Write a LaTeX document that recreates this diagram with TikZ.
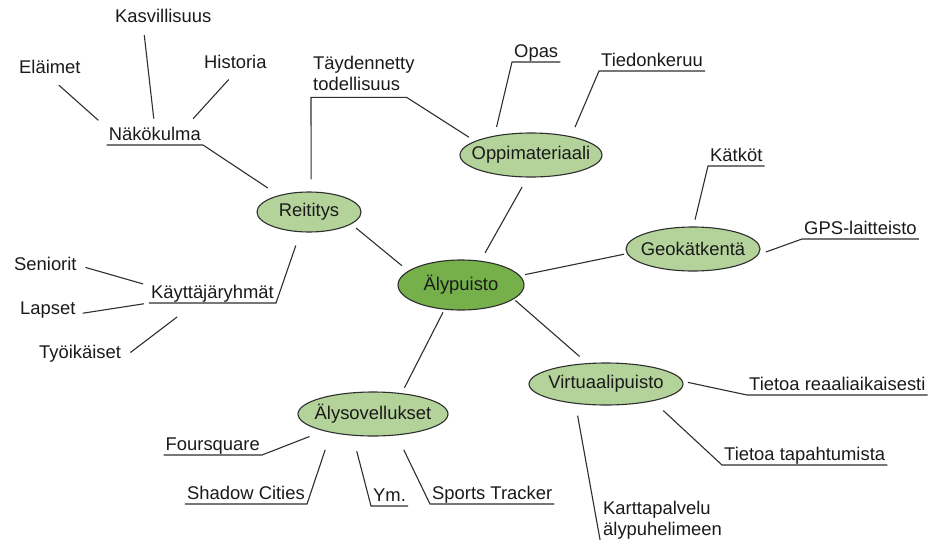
\documentclass[tikz,border=0pt]{standalone}
\usepackage{fontspec}
\setmainfont{Liberation Sans}
\usetikzlibrary{shapes.geometric}
\definecolor{leafgreen}{HTML}{B4D39B}
\definecolor{coregreen}{HTML}{75B04B}
\definecolor{linegray}{HTML}{2E2E2E}
\definecolor{inkgray}{HTML}{1A1A1A}
\newcommand{\ovaltext}[1]{\makebox[0pt]{#1}}
\tikzset{
  topic/.style={ellipse,draw=linegray,line width=1.1pt,fill=leafgreen,inner sep=0pt},
  core/.style={topic,fill=coregreen},
  leaf/.style={inner xsep=2pt,inner ysep=0pt,text height=13pt,text depth=4pt},
  branch/.style={draw=linegray,line width=1.1pt},
}
\begin{document}
\begin{tikzpicture}[x=1pt,y=-1pt,font=\fontsize{18.4}{21}\selectfont,text=inkgray]
  \useasboundingbox (0,0) rectangle (935,539);
  \clip (0,0) rectangle (935,539);
  % main topics
  \node[core,minimum width=126,minimum height=50] (puisto) at (461,285) {\ovaltext{Älypuisto}};
  \node[topic,minimum width=142,minimum height=44] (opp) at (531,155) {\ovaltext{Oppimateriaali}};
  \node[topic,minimum width=104,minimum height=40] (reit) at (309,212) {\ovaltext{Reititys}};
  \node[topic,minimum width=134,minimum height=44] (geo) at (693,249) {\ovaltext{Geokätkentä}};
  \node[topic,minimum width=154,minimum height=42] (virt) at (606,384) {\ovaltext{Virtuaalipuisto}};
  \node[topic,minimum width=150,minimum height=44] (sov) at (373,414) {\ovaltext{Älysovellukset}};
  % underlined subtopics
  \node[leaf,anchor=south east] (nako) at (203,145) {Näkökulma};
  \node[leaf,anchor=south west] (opas) at (512,62) {Opas};
  \node[leaf,anchor=south west] (tied) at (599,71) {Tiedonkeruu};
  \node[leaf,anchor=south west] (katk) at (708,166) {Kätköt};
  \node[leaf,anchor=south west] (gps) at (802,239) {GPS-laitteisto};
  \node[leaf,anchor=south east] (kayt) at (276,303) {Käyttäjäryhmät};
  \node[leaf,anchor=south east] (four) at (262,455) {Foursquare};
  \node[leaf,anchor=south east] (shad) at (307,504) {Shadow Cities};
  \node[leaf,anchor=south west] (ym) at (371,506) {Ym.};
  \node[leaf,anchor=south west] (sport) at (430,504) {Sports Tracker};
  \node[leaf,anchor=south west] (reaal) at (747,395) {Tietoa reaaliaikaisesti};
  \node[leaf,anchor=south west] (tapah) at (722,465) {Tietoa tapahtumista};
  \node[align=left,inner xsep=2pt,inner ysep=7pt,anchor=base west] (tayd) at (311,90) {Täydennetty\\todellisuus};
  \node[align=left,inner xsep=2pt,inner ysep=6pt,anchor=base west] (kart) at (601,535) {Karttapalvelu\\älypuhelimeen};
  % plain leaves
  \node[leaf,anchor=base west] (elai) at (17,73) {Eläimet};
  \node[leaf,anchor=base west] (kasv) at (113,22) {Kasvillisuus};
  \node[leaf,anchor=base west] (hist) at (202,68) {Historia};
  \node[leaf,anchor=base west] (seni) at (12,270) {Seniorit};
  \node[leaf,anchor=base west] (laps) at (18,314) {Lapset};
  \node[leaf,anchor=base west] (tyoi) at (37,358) {Työikäiset};
  % center links
  \draw[branch,shorten <=9pt,shorten >=11pt] (puisto.51) -- (opp.261);
  \draw[branch,shorten <=8pt,shorten >=6pt] (puisto.165) -- (reit.344);
  \draw[branch,shorten <=5pt,shorten >=3pt] (puisto.9) -- (geo.184);
  \draw[branch,shorten <=3pt,shorten >=6pt] (puisto.236) -- (sov.36);
  \draw[branch,shorten <=2pt,shorten >=10pt] (puisto.345) -- (virt.132);
  % topic links
  \draw[branch,shorten <=9pt] (opp.152) -- (opas.south west) -- (opas.south east);
  \draw[branch,shorten <=10pt] (opp.25) -- (tied.south west) -- (tied.south east);
  \draw[branch,shorten <=12pt,shorten >=7pt] (reit.84) -- (tayd.south west) -- ([xshift=-10pt]tayd.south east) -- (opp.166);
  \draw[branch,shorten <=13pt] (reit.151) -- (nako.south east) -- (nako.south west);
  \draw[branch,shorten <=14pt] (reit.247) -- (kayt.south east) -- (kayt.south west);
  \draw[branch,shorten <=7pt] (geo.89) -- (katk.south west) -- (katk.south east);
  \draw[branch,shorten <=8pt] (geo.355) -- (gps.south west) -- (gps.south east);
  \draw[branch,shorten <=5pt] (virt.2) -- (reaal.south west) -- (reaal.south east);
  \draw[branch,shorten <=14pt] (virt.340) -- (tapah.south west) -- (tapah.south east);
  \draw[branch,shorten <=12pt] (virt.213) -- (kart.south west) -- (kart.south east);
  \draw[branch,shorten <=15pt] (sov.199) -- (four.south east) -- (four.south west);
  \draw[branch,shorten <=18pt] (sov.204) -- (shad.south east) -- (shad.south west);
  \draw[branch,shorten <=16pt] (sov.227) -- (ym.south west) -- (ym.south east);
  \draw[branch,shorten <=16pt] (sov.318) -- (sport.south west) -- (sport.south east);
  % leaf links
  \draw[branch,shorten <=12pt,shorten >=11pt] (elai.south) -- (nako.north west);
  \draw[branch,shorten <=9pt,shorten >=9pt] ([xshift=-20pt]kasv.south) -- (nako.north);
  \draw[branch,shorten <=10pt,shorten >=12pt] (hist.south) -- ([xshift=-18pt]nako.north east);
  \draw[branch,shorten <=7pt,shorten >=6pt] (seni.east) -- (kayt.north west);
  \draw[branch,shorten <=5pt,shorten >=5pt] (laps.base east) -- (kayt.south west);
  \draw[branch,shorten <=9pt,shorten >=23pt] (tyoi.base east) -- ([xshift=-17pt]kayt.south);
\end{tikzpicture}
\end{document}
